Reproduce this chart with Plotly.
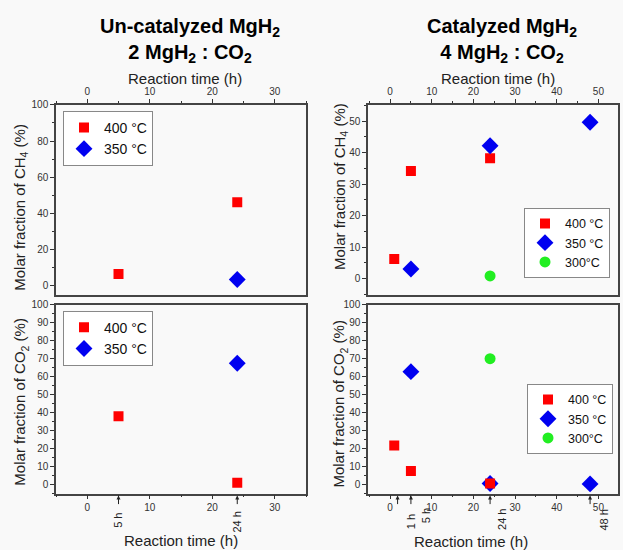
import plotly.graph_objects as go

# ---------------- data ----------------
# Un-catalyzed (left)
unc_ch4_t400 = [5, 24]
unc_ch4_v400 = [6.5, 46.2]
unc_ch4_t350 = [24]
unc_ch4_v350 = [3.5]
unc_co2_t400 = [5, 24]
unc_co2_v400 = [38.0, 1.0]
unc_co2_t350 = [24]
unc_co2_v350 = [67.5]
# Catalyzed (right)
cat_ch4_t400 = [1, 5, 24]
cat_ch4_v400 = [6.2, 34.2, 38.2]
cat_ch4_t350 = [5, 24, 48]
cat_ch4_v350 = [3.0, 42.2, 49.7]
cat_ch4_t300 = [24]
cat_ch4_v300 = [0.8]
cat_co2_t400 = [1, 5, 24]
cat_co2_v400 = [21.7, 7.6, 0.6]
cat_co2_t350 = [5, 24, 48]
cat_co2_v350 = [62.8, 0.6, 0.4]
cat_co2_t300 = [24]
cat_co2_v300 = [70.0]

series_names = ["400 °C", "350 °C", "300°C"]

# time markers (arrow position, label position, label)
left_arrow_x = [5, 24]
left_label_x = [5, 24]
left_labels = ["5 h", "24 h"]
right_arrow_x = [1.8, 5, 24, 48]
right_label_x = [5, 8.8, 27, 51.4]
right_labels = ["1 h", "5 h", "24 h", "48 h"]

RED = "#ff0000"
BLUE = "#0000f0"
GREEN = "#22ee22"
FONT = "Liberation Sans, Arial, sans-serif"

W, H = 623, 550
def px(x):
    return x / W
def py(y):
    return 1 - y / H

fig = go.Figure()

def add(t, v, name, color, symbol, size, xa, ya, legend, rank):
    fig.add_trace(go.Scatter(
        x=t, y=v, mode="markers", name=name, legendrank=rank,
        marker=dict(color=color, symbol=symbol, size=size, line=dict(width=0)),
        xaxis=xa, yaxis=ya, legend=legend))

add(unc_ch4_t400, unc_ch4_v400, series_names[0], RED, "square", 10, "x", "y", "legend", 1)
add(unc_ch4_t350, unc_ch4_v350, series_names[1], BLUE, "diamond", 13, "x", "y", "legend", 2)
add(cat_ch4_t400, cat_ch4_v400, series_names[0], RED, "square", 10, "x2", "y2", "legend2", 1)
add(cat_ch4_t350, cat_ch4_v350, series_names[1], BLUE, "diamond", 13, "x2", "y2", "legend2", 2)
add(cat_ch4_t300, cat_ch4_v300, series_names[2], GREEN, "circle", 11, "x2", "y2", "legend2", 3)
add(unc_co2_t400, unc_co2_v400, series_names[0], RED, "square", 10, "x3", "y3", "legend3", 1)
add(unc_co2_t350, unc_co2_v350, series_names[1], BLUE, "diamond", 13, "x3", "y3", "legend3", 2)
add(cat_co2_t350, cat_co2_v350, series_names[1], BLUE, "diamond", 13, "x4", "y4", "legend4", 2)
add(cat_co2_t400, cat_co2_v400, series_names[0], RED, "square", 10, "x4", "y4", "legend4", 1)
add(cat_co2_t300, cat_co2_v300, series_names[2], GREEN, "circle", 11, "x4", "y4", "legend4", 3)

xl = [px(56), px(306)]
xr = [px(368), px(618)]
yt = [py(292), py(100)]
yb = [py(493), py(302)]

tickfont = dict(family=FONT, size=10, color="#333333")

def xaxis(domain, anchor, side, rng, showlabels=True):
    return dict(domain=domain, anchor=anchor, side=side, range=rng,
                dtick=10, tick0=0, ticks="outside", ticklen=4, tickwidth=1,
                tickcolor="#333", showline=True, linecolor="#444", linewidth=1.5,
                mirror=True, showgrid=False, zeroline=False, tickfont=tickfont,
                showticklabels=showlabels,
                minor=dict(dtick=5, ticks="outside", ticklen=2, tickcolor="#333"))

def yaxis(domain, anchor, rng, dtick, minor):
    return dict(domain=domain, anchor=anchor, range=rng, dtick=dtick, tick0=0,
                ticks="outside", ticklen=4, tickwidth=1, tickcolor="#333",
                showline=True, linecolor="#444", linewidth=1.5, mirror=True,
                showgrid=False, zeroline=False, tickfont=tickfont,
                minor=dict(dtick=minor, ticks="outside", ticklen=2, tickcolor="#333"))

def legend(x, y, size):
    return dict(x=x, y=y, xanchor="left", yanchor="top", bgcolor="white",
                bordercolor="#888", borderwidth=1,
                font=dict(family=FONT, size=size, color="#111"),
                itemsizing="trace", itemwidth=30, tracegroupgap=0)

fig.update_layout(
    width=W, height=H, margin=dict(l=0, r=0, t=0, b=0),
    paper_bgcolor="#f9f9f9", plot_bgcolor="#f9f9f9",
    xaxis=xaxis(xl, "y", "top", [-5, 35]),
    xaxis2=xaxis(xr, "y2", "top", [-5.3, 54.7]),
    xaxis3=xaxis(xl, "y3", "bottom", [-5, 35]),
    xaxis4=xaxis(xr, "y4", "bottom", [-5.3, 54.7]),
    yaxis=yaxis(yt, "x", [-5, 100], 20, 10),
    yaxis2=yaxis(yt, "x2", [-5.2, 55.2], 10, 5),
    yaxis3=yaxis(yb, "x3", [-5, 100], 10, 5),
    yaxis4=yaxis(yb, "x4", [-5, 100], 10, 5),
    legend=legend(px(63), py(106), 14),
    legend2=legend(px(524), py(204), 12.5),
    legend3=legend(px(63), py(308), 14),
    legend4=legend(px(527), py(382), 12.5),
    showlegend=True,
)

ann = []
def text(x, y, t, size, color="#222", angle=0):
    ann.append(dict(x=px(x), y=py(y), xref="paper", yref="paper", showarrow=False,
                    xanchor="center", yanchor="middle", text=t, textangle=angle,
                    font=dict(family=FONT, size=size, color=color)))

# Titles
text(190, 35, "<b>Un-catalyzed MgH<sub>2</sub><br>2 MgH<sub>2</sub> : CO<sub>2</sub></b>", 20, "black")
text(502, 35, "<b>Catalyzed MgH<sub>2</sub><br>4 MgH<sub>2</sub> : CO<sub>2</sub></b>", 20, "black")
# Top x titles
text(185, 73, "Reaction time (h)", 15)
text(498, 73, "Reaction time (h)", 15)
# Bottom x titles
text(181, 540, "Reaction time (h)", 15)
text(471, 541, "Reaction time (h)", 15)
# Y titles
text(21, 204, "Molar fraction of CH<sub>4</sub> (%)", 15, angle=-90)
text(340, 183, "Molar fraction of CH<sub>4</sub> (%)", 15, angle=-90)
text(21, 400, "Molar fraction of CO<sub>2</sub> (%)", 15, angle=-90)
text(340, 402, "Molar fraction of CO<sub>2</sub> (%)", 15, angle=-90)

# Arrows and time labels
def arrows(xs, xref):
    for xv in xs:
        ann.append(dict(x=xv, y=py(495), xref=xref, yref="paper", ax=0, ay=10,
                        axref="pixel", ayref="pixel", showarrow=True, text="",
                        arrowhead=2, arrowsize=0.8, arrowwidth=1, arrowcolor="#222"))
def labels(xs, ts, xref, ys):
    for xv, t, yv in zip(xs, ts, ys):
        ann.append(dict(x=xv, y=py(yv), xref=xref, yref="paper", showarrow=False,
                        xanchor="center", yanchor="middle",
                        text=t, textangle=-90, font=dict(family=FONT, size=11, color="#222")))

arrows(left_arrow_x, "x3")
labels(left_label_x, left_labels, "x3", [520, 522])
arrows(right_arrow_x, "x4")
labels(right_label_x, right_labels, "x4", [521, 515, 519, 520])

fig.update_layout(annotations=ann)
fig.write_html("out.html")
